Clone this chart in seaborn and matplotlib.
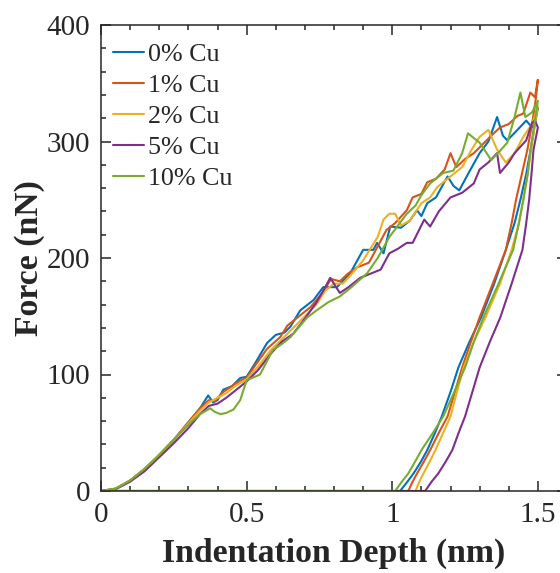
import numpy as np
import pandas as pd
import matplotlib
matplotlib.use("Agg")
import matplotlib.pyplot as plt
import seaborn as sns
from matplotlib.ticker import MultipleLocator, FixedLocator
from matplotlib.lines import Line2D

# ---------------- data ----------------
labels = ["0% Cu", "1% Cu", "2% Cu", "5% Cu", "10% Cu"]
colors = ["#0072BD", "#D95319", "#EDB120", "#7E2F8E", "#77AC30"]

# loading branches (depth nm, force nN)
load_x_0 = [0, 0.05, 0.1, 0.15, 0.2, 0.25, 0.3, 0.34, 0.368, 0.385, 0.40, 0.42, 0.45, 0.478, 0.50, 0.53, 0.57, 0.60, 0.63,
            0.65, 0.684, 0.73, 0.763, 0.81, 0.856, 0.90, 0.935, 0.948, 0.97, 0.993, 1.03, 1.06, 1.085, 1.10, 1.12,
            1.15, 1.19, 1.21, 1.23, 1.26, 1.30, 1.33, 1.36, 1.38, 1.395, 1.43, 1.46, 1.48, 1.50]
load_y_0 = [0, 2, 9, 19, 31, 44, 59, 71, 82, 76, 78, 87, 90, 97, 98, 110, 127, 134, 136,
            141, 155, 164, 175, 175, 187, 207, 207, 213, 204, 227, 226, 232, 241, 236, 247,
            252, 270, 262, 258, 272, 290, 300, 321, 305, 301, 310, 318, 312, 329]

load_x_1 = [0, 0.05, 0.1, 0.15, 0.2, 0.25, 0.3, 0.34, 0.37, 0.39, 0.42, 0.443, 0.48, 0.50, 0.53, 0.57, 0.615, 0.64, 0.68,
            0.72, 0.76, 0.79, 0.82, 0.85, 0.88, 0.92, 0.95, 0.98, 1.01, 1.05, 1.07, 1.10, 1.12, 1.15, 1.18,
            1.20, 1.22, 1.25, 1.28, 1.30, 1.34, 1.37, 1.40, 1.43, 1.45, 1.474, 1.49, 1.50]
load_y_1 = [0, 2, 9, 19, 31, 44, 59, 71, 78, 77, 85, 89, 95, 97, 108, 122, 132, 142, 150,
            158, 170, 182, 180, 187, 192, 196, 210, 224, 230, 241, 252, 255, 265, 268, 276,
            290, 278, 285, 290, 295, 305, 312, 315, 322, 324, 342, 338, 353]

load_x_2 = [0, 0.05, 0.1, 0.15, 0.2, 0.25, 0.3, 0.34, 0.37, 0.40, 0.43, 0.46, 0.50, 0.54, 0.58, 0.62, 0.66, 0.70, 0.74,
            0.77, 0.80, 0.83, 0.86, 0.90, 0.93, 0.95, 0.97, 0.99, 1.01, 1.03, 1.06, 1.10, 1.13, 1.155, 1.19,
            1.24, 1.27, 1.30, 1.33, 1.36, 1.39, 1.42, 1.45, 1.48, 1.50]
load_y_2 = [0, 2, 9, 19, 31, 44, 58, 69, 76, 80, 84, 90, 96, 107, 120, 130, 140, 150, 160,
            172, 178, 178, 186, 198, 210, 218, 233, 238, 238, 228, 232, 247, 252, 261, 268,
            278, 292, 304, 310, 293, 282, 290, 304, 315, 330]

load_x_3 = [0, 0.05, 0.1, 0.15, 0.2, 0.25, 0.3, 0.34, 0.37, 0.40, 0.43, 0.46, 0.50, 0.54, 0.58, 0.62, 0.66, 0.70, 0.74,
            0.77, 0.787, 0.82, 0.85, 0.89, 0.92, 0.96, 0.99, 1.02, 1.05, 1.07, 1.11, 1.13, 1.16, 1.20, 1.24,
            1.28, 1.30, 1.33, 1.36, 1.37, 1.40, 1.42, 1.46, 1.48, 1.49, 1.50]
load_y_3 = [0, 1.5, 8, 17, 29, 41, 54, 66, 73, 75, 80, 86, 94, 104, 117, 128, 135, 148, 162,
            175, 183, 170, 175, 183, 186, 190, 204, 208, 213, 213, 233, 227, 240, 252, 256,
            264, 276, 282, 290, 273, 282, 290, 301, 316, 318, 312]

load_x_4 = [0, 0.05, 0.1, 0.15, 0.2, 0.25, 0.3, 0.34, 0.375, 0.39, 0.41, 0.43, 0.455, 0.478, 0.50, 0.546, 0.59, 0.62, 0.65,
            0.708, 0.74, 0.78, 0.82, 0.86, 0.914, 0.95, 0.99, 1.02, 1.05, 1.08, 1.10, 1.13, 1.175, 1.21, 1.24,
            1.26, 1.28, 1.30, 1.34, 1.37, 1.395, 1.42, 1.44, 1.457, 1.48, 1.50]
load_y_4 = [0, 2, 9, 19, 31, 44, 57, 66, 71, 68, 66, 67, 70, 78, 95, 100, 121, 126, 132,
            149, 155, 162, 167, 175, 187, 200, 218, 228, 238, 245, 254, 264, 273, 275, 290,
            307, 303, 299, 284, 292, 299, 321, 342, 321, 325, 335]

# unloading branches, from the contact point (force 0) up to just below the peak
unload_y_0 = [0, 8, 15, 25, 35, 50, 64, 85, 106, 128, 149, 178, 207, 230, 250, 272, 293, 315]
unload_x_0 = [1.027, 1.052, 1.073, 1.098, 1.12, 1.147, 1.17, 1.20, 1.227, 1.265, 1.305, 1.35, 1.39, 1.42, 1.44, 1.46, 1.475, 1.49]
unload_y_1 = [0, 8, 15, 25, 35, 50, 64, 85, 106, 128, 149, 178, 207, 230, 250, 272, 293, 315, 335]
unload_x_1 = [1.055, 1.07, 1.085, 1.108, 1.13, 1.16, 1.19, 1.215, 1.24, 1.27, 1.30, 1.345, 1.39, 1.41, 1.425, 1.445, 1.464, 1.48, 1.492]
unload_y_2 = [0, 8, 15, 25, 35, 50, 64, 85, 106, 128, 149, 178, 207, 230, 250, 272, 293, 315]
unload_x_2 = [1.08, 1.093, 1.107, 1.128, 1.148, 1.175, 1.20, 1.222, 1.245, 1.28, 1.32, 1.37, 1.41, 1.435, 1.45, 1.465, 1.477, 1.49]
unload_y_3 = [0, 8, 15, 25, 35, 50, 64, 85, 106, 128, 149, 178, 207, 230, 250, 272, 293]
unload_x_3 = [1.113, 1.135, 1.158, 1.183, 1.206, 1.228, 1.25, 1.275, 1.30, 1.335, 1.371, 1.41, 1.447, 1.46, 1.47, 1.478, 1.485]
unload_y_4 = [0, 8, 15, 25, 35, 50, 64, 85, 106, 128, 149, 178, 207, 230, 250, 272, 293, 315]
unload_x_4 = [1.01, 1.033, 1.055, 1.078, 1.10, 1.14, 1.175, 1.213, 1.25, 1.28, 1.313, 1.365, 1.415, 1.435, 1.45, 1.465, 1.475, 1.488]

load_x = [load_x_0, load_x_1, load_x_2, load_x_3, load_x_4]
load_y = [load_y_0, load_y_1, load_y_2, load_y_3, load_y_4]
unload_x = [unload_x_0, unload_x_1, unload_x_2, unload_x_3, unload_x_4]
unload_y = [unload_y_0, unload_y_1, unload_y_2, unload_y_3, unload_y_4]

# ---------------- build table ----------------
rows = []
for lab, lx, ly, ux, uy in zip(labels, load_x, load_y, unload_x, unload_y):
    xs = list(lx) + list(reversed(ux)) + [0.0]
    ys = list(ly) + list(reversed(uy)) + [0.0]
    for i, (a, b) in enumerate(zip(xs, ys)):
        rows.append({"Depth": a, "Force": b, "Sample": lab, "step": i})
df = pd.DataFrame(rows)

# ---------------- style ----------------
sns.set_theme(style="ticks")
plt.rcParams["font.family"] = ["Liberation Serif", "DejaVu Serif"]

fig = plt.figure(figsize=(5.6, 5.73), dpi=100)
ax = fig.add_axes([101 / 560, 82 / 573, 466 / 560, 466 / 573])

sns.lineplot(data=df, x="Depth", y="Force", hue="Sample", hue_order=labels,
             palette=colors, sort=False, estimator=None, linewidth=1.5, ax=ax,
             legend=False)

ax.set_xlim(0, 1.6)
ax.set_ylim(0, 400)
ax.xaxis.set_major_locator(FixedLocator([0, 0.5, 1, 1.5]))
ax.set_xticklabels(["0", "0.5", "1", "1.5"])
ax.xaxis.set_minor_locator(MultipleLocator(0.1))
ax.yaxis.set_major_locator(MultipleLocator(100))
ax.yaxis.set_minor_locator(MultipleLocator(20))

for s in ax.spines.values():
    s.set_visible(True)
    s.set_linewidth(1.1)
    s.set_color("#262626")

ax.tick_params(which="both", direction="in", top=True, right=True, color="#262626",
               width=1.1)
ax.tick_params(which="major", length=7, labelsize=21, pad=8, labelcolor="#262626")
ax.tick_params(which="minor", length=3.5)

ax.set_xlabel("Indentation Depth (nm)", fontsize=24.3, fontweight="bold",
              color="#262626", labelpad=7)
ax.set_ylabel("Force (nN)", fontsize=24.3, fontweight="bold",
              color="#262626", labelpad=1)

handles = [Line2D([0], [0], color=c, lw=1.5) for c in colors]
leg = ax.legend(handles, labels, loc="upper left",
                bbox_to_anchor=(12 / 466, 1 - 18 / 466), frameon=False,
                fontsize=18.7, borderpad=0, borderaxespad=0,
                handlelength=1.2, handletextpad=0.15, labelspacing=0.3)
for t in leg.get_texts():
    t.set_color("#262626")

fig.savefig("out.png", dpi=100)
